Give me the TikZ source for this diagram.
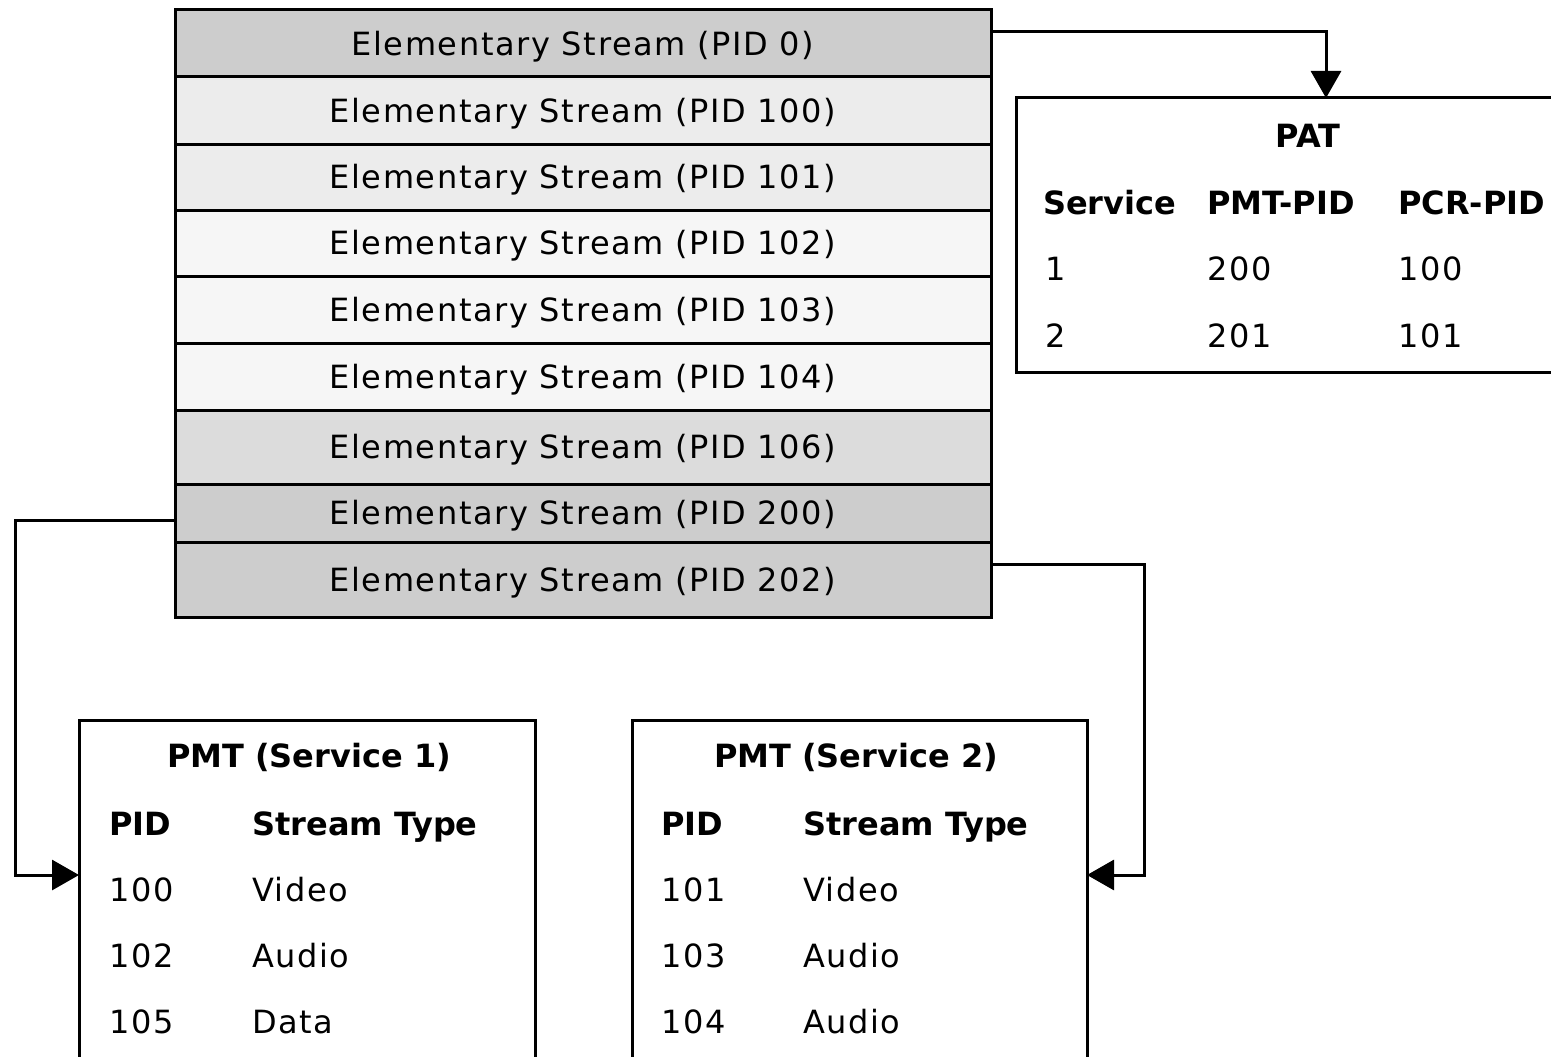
\documentclass[tikz,border=0pt]{standalone}
\usepackage{fontspec}
\usetikzlibrary{arrows.meta}
\newfontfamily\plainface{DejaVu Sans}[LetterSpace=5]
\newfontfamily\headface{DejaVu Sans}
\definecolor{rowdark}{HTML}{CDCDCD}
\definecolor{rowmid}{HTML}{DCDCDC}
\definecolor{rowlight}{HTML}{ECECEC}
\definecolor{rowpale}{HTML}{F6F6F6}
\begin{document}
\begin{tikzpicture}[x=1pt,y=-1pt,
  srow/.style={draw, line width=3pt, anchor=north west, minimum width=816pt,
    inner sep=0pt, outer sep=0pt, text height=23.3pt, text depth=0pt,
    font=\plainface\fontsize{32}{38}\selectfont},
  panel/.style={draw, line width=3pt, anchor=north west, inner sep=0pt,
    outer sep=0pt, fill=white},
  tcell/.style={anchor=base west, inner sep=0pt,
    font=\plainface\fontsize{32}{38}\selectfont},
  hdr/.style={anchor=base west, inner sep=0pt,
    font=\headface\bfseries\fontsize{32}{38}\selectfont},
  ttl/.style={hdr, anchor=base},
  conn/.style={line width=3pt, -{Triangle[length=27pt,width=30pt]}}]
\useasboundingbox (0,0) rectangle (1551,1057);
\clip (0,0) rectangle (1551,1057);

% transport stream: one row per elementary stream
\node[srow, fill=rowdark,  minimum height=67pt] (s0) at (175,10)  {Elementary Stream (PID 0)};
\node[srow, fill=rowlight, minimum height=67pt] (s1) at (175,77)  {Elementary Stream (PID 100)};
\node[srow, fill=rowlight, minimum height=66pt] (s2) at (175,144) {Elementary Stream (PID 101)};
\node[srow, fill=rowpale,  minimum height=66pt] (s3) at (175,210) {Elementary Stream (PID 102)};
\node[srow, fill=rowpale,  minimum height=67pt] (s4) at (175,276) {Elementary Stream (PID 103)};
\node[srow, fill=rowpale,  minimum height=67pt] (s5) at (175,343) {Elementary Stream (PID 104)};
\node[srow, fill=rowmid,   minimum height=74pt] (s6) at (175,410) {Elementary Stream (PID 106)};
\node[srow, fill=rowdark,  minimum height=58pt] (s7) at (175,484) {Elementary Stream (PID 200)};
\node[srow, fill=rowdark,  minimum height=75pt] (s8) at (175,542) {Elementary Stream (PID 202)};

% program association table
\node[panel, minimum width=620pt, minimum height=274pt] (pat) at (1016,98) {};
\node[ttl]   (patT)  at (1308,147) {PAT};
\node[hdr]   (patH1) at (1043,214) {Service};
\node[hdr]   (patH2) at (1207,214) {PMT-PID};
\node[hdr]   (patH3) at (1398,214) {PCR-PID};
\node[tcell] (patA1) at (1045,280) {1};
\node[tcell] (patA2) at (1207,280) {200};
\node[tcell] (patA3) at (1398,280) {100};
\node[tcell] (patB1) at (1045,347) {2};
\node[tcell] (patB2) at (1207,347) {201};
\node[tcell] (patB3) at (1398,347) {101};

% program map tables
\node[panel, minimum width=456pt, minimum height=400pt] (pmt1) at (79,720) {};
\node[ttl]   (m1T)  at (309,767) {PMT (Service 1)};
\node[hdr]   (m1H1) at (109,835) {PID};
\node[hdr]   (m1H2) at (252,835) {Stream Type};
\node[tcell] (m1A1) at (109,901) {100};
\node[tcell] (m1A2) at (252,901) {Video};
\node[tcell] (m1B1) at (109,967) {102};
\node[tcell] (m1B2) at (252,967) {Audio};
\node[tcell] (m1C1) at (109,1033) {105};
\node[tcell] (m1C2) at (252,1033) {Data};

\node[panel, minimum width=455pt, minimum height=400pt] (pmt2) at (632,720) {};
\node[ttl]   (m2T)  at (856,767) {PMT (Service 2)};
\node[hdr]   (m2H1) at (661,835) {PID};
\node[hdr]   (m2H2) at (803,835) {Stream Type};
\node[tcell] (m2A1) at (661,901) {101};
\node[tcell] (m2A2) at (803,901) {Video};
\node[tcell] (m2B1) at (661,967) {103};
\node[tcell] (m2B2) at (803,967) {Audio};
\node[tcell] (m2C1) at (661,1033) {104};
\node[tcell] (m2C2) at (803,1033) {Audio};

% connectors
\coordinate (bendL) at (15,875);
\coordinate (bendR) at (1144,875);
\draw[conn] ([yshift=11.5pt]s0.east) -| (pat.north);
\draw[conn] ([yshift=-7pt]s7.west) -| (bendL) -- (bendL -| pmt1.west);
\draw[conn] ([yshift=15.5pt]s8.east) -| (bendR) -- (bendR -| pmt2.east);
\end{tikzpicture}
\end{document}
